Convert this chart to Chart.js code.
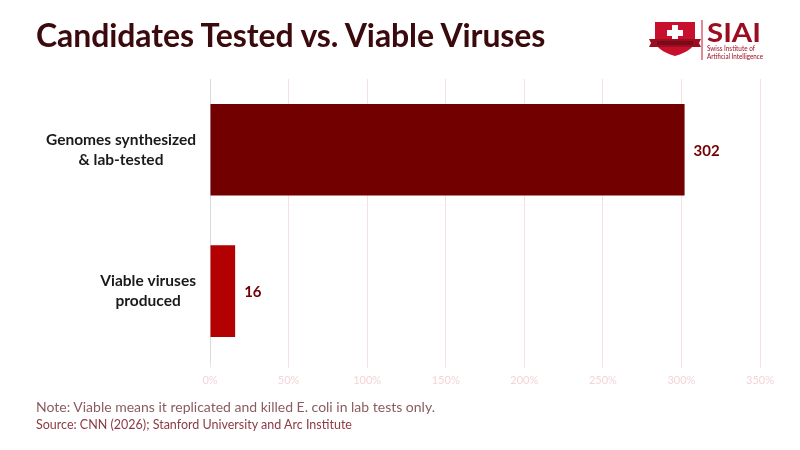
<!DOCTYPE html>
<html>
<head>
<meta charset="utf-8">
<script src="https://cdn.jsdelivr.net/npm/chart.js@4/dist/chart.umd.min.js"></script>
<style>
  html, body { margin: 0; padding: 0; background: #fff; }
  body { width: 800px; height: 450px; position: relative; overflow: hidden; font-family: "Lato", "Noto Sans", sans-serif; }
  #title { position: absolute; left: 36px; top: 15px; font-size: 32px; font-weight: 700; color: #3b0a0d; letter-spacing: -0.1px; }
  #note { position: absolute; left: 36px; top: 398px; font-size: 14px; color: #8a5c60; }
  #source { position: absolute; left: 36px; top: 417px; font-size: 12.5px; color: #8b3b42; }
  #logo { position: absolute; left: 645px; top: 18px; }
  #wrap { position: absolute; left: 0; top: 0; width: 800px; height: 450px; }
</style>
</head>
<body>
<div id="wrap"><canvas id="chart" width="800" height="450"></canvas></div>
<div id="title">Candidates Tested vs. Viable Viruses</div>
<svg id="logo" width="125" height="44" viewBox="0 0 125 44">
  <path d="M10 4 L50 4 L50 22 Q50 32 30 38 Q10 32 10 22 Z" fill="#c8102e"/>
  <rect x="27" y="7" width="6" height="16" fill="#fff"/>
  <rect x="22" y="12" width="16" height="6" fill="#fff"/>
  <path d="M4 21 L56 21 L54 25 L56 29 L4 29 L6 25 Z" fill="#9b0d20"/>
  <rect x="12" y="23" width="36" height="4" fill="#7a0a18"/>
  <line x1="57" y1="2" x2="57" y2="42" stroke="#c8102e" stroke-width="1"/>
  <text x="62" y="24" font-family="Lato, sans-serif" font-weight="700" font-size="27" fill="#9b0d20" textLength="54" lengthAdjust="spacingAndGlyphs">SIAI</text>
  <text x="62" y="33" font-family="Lato, sans-serif" font-size="7.5" fill="#9b0d20" textLength="48" lengthAdjust="spacingAndGlyphs">Swiss Institute of</text>
  <text x="62" y="41" font-family="Lato, sans-serif" font-size="7.5" fill="#9b0d20" textLength="56" lengthAdjust="spacingAndGlyphs">Artificial Intelligence</text>
</svg>
<div id="note">Note: Viable means it replicated and killed E. coli in lab tests only.</div>
<div id="source">Source: CNN (2026); Stanford University and Arc Institute</div>
<script>
const categories = [["Genomes synthesized", "& lab-tested"], ["Viable viruses", "produced"]];
const counts = [302, 16];
const barColors = ["#730000", "#b30000"];
const xTicks = [0, 50, 100, 150, 200, 250, 300, 350];

const FONT = 'Lato, "Noto Sans", sans-serif';

// value labels at bar ends + centred category labels on the left
const extraLabels = {
  id: 'extraLabels',
  afterDatasetsDraw(chart) {
    const ctx = chart.ctx;
    const meta = chart.getDatasetMeta(0);
    ctx.save();
    ctx.font = '700 15px ' + FONT;
    ctx.fillStyle = '#730000';
    ctx.textAlign = 'left';
    ctx.textBaseline = 'middle';
    meta.data.forEach((bar, i) => {
      ctx.fillText(String(counts[i]), bar.x + 9, bar.y + 1);
    });

    const yScale = chart.scales.y;
    const right = chart.chartArea.left - 14;
    ctx.font = '700 15.5px ' + FONT;
    ctx.fillStyle = '#1a1a1a';
    ctx.textAlign = 'center';
    const lineH = 20;
    categories.forEach((lines, i) => {
      const cy = yScale.getPixelForTick(i);
      const w = Math.max(...lines.map(l => ctx.measureText(l).width));
      const cx = right - w / 2;
      lines.forEach((l, j) => {
        ctx.fillText(l, cx, cy + (j - (lines.length - 1) / 2) * lineH);
      });
    });
    ctx.restore();
  }
};

const ctx = document.getElementById('chart').getContext('2d');
new Chart(ctx, {
  type: 'bar',
  data: {
    labels: categories,
    datasets: [{
      data: counts,
      backgroundColor: barColors,
      borderWidth: 0,
      barPercentage: 1,
      categoryPercentage: 0.648
    }]
  },
  options: {
    indexAxis: 'y',
    responsive: false,
    animation: false,
    layout: { padding: { top: 79, bottom: 57, left: 20, right: 40 } },
    plugins: { legend: { display: false }, tooltip: { enabled: false } },
    scales: {
      x: {
        min: 0,
        max: 350,
        afterBuildTicks: (s) => { s.ticks = xTicks.map(v => ({ value: v })); },
        ticks: {
          callback: (v) => v + '%',
          color: '#f4d4d8',
          font: { family: 'Lato', size: 11 },
          padding: 6
        },
        grid: { color: '#f5e1e4', tickLength: 6 },
        border: { display: false }
      },
      y: {
        afterFit: (s) => { s.width = 190; },
        ticks: { display: false },
        grid: { display: false },
        border: { display: true, color: '#d9d9d9' }
      }
    }
  },
  plugins: [extraLabels]
});
</script>
</body>
</html>
